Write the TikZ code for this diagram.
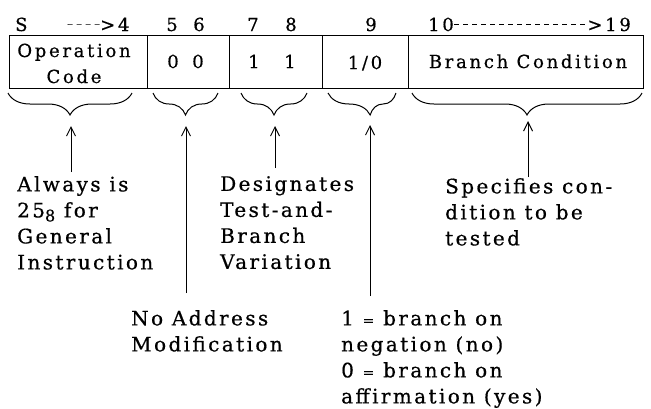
\documentclass[tikz,border=0pt]{standalone}
\usepackage{fontspec}
\setmainfont{DejaVu Serif}[LetterSpace=12, FakeBold=0.6]
\newfontfamily\boxfont{DejaVu Serif}[LetterSpace=15, FakeBold=0.6]
\usetikzlibrary{arrows.meta,decorations.pathreplacing}
\tikzset{
  hdr/.style={font=\boxfont\fontsize{18}{26}\selectfont, inner sep=0pt, anchor=base},
  cell/.style={font=\boxfont\fontsize{18}{26}\selectfont, inner sep=0pt, anchor=base, align=center},
  desc/.style={font=\fontsize{20}{26}\selectfont, inner sep=0pt, anchor=north west, align=left},
  brc/.style={decorate, decoration={brace, mirror, amplitude=22pt}, line width=1pt},
  arr/.style={-{Straight Barb[length=9pt,width=9pt]}, line width=1pt},
  frame/.style={line width=1pt},
  dsh/.style={dashed, line width=0.6pt, dash pattern=on 5pt off 4pt}
}
\begin{document}
\begin{tikzpicture}[x=1pt,y=-1pt]
\useasboundingbox (0,0) rectangle (651,408);
% header numbers
\node[hdr, anchor=base west] (hS) at (15,31) {S};
\node[hdr, anchor=base west] (h4) at (100,31) {>4};
\node[hdr] (h5) at (172,31) {5};
\node[hdr] (h6) at (199,31) {6};
\node[hdr] (h7) at (253,31) {7};
\node[hdr] (h8) at (291,31) {8};
\node[hdr] (h9) at (371,31) {9};
\node[hdr, anchor=base west] (h10) at (428,31) {10};
\node[hdr, anchor=base east] (h19) at (631,31) {>19};
\draw[dsh] ([xshift=40pt]hS.east) -- (h4.west);
\draw[dsh] (h10.east) -- (h19.west);
% word frame
\coordinate (fl) at (9,35);
\coordinate (fr) at (643,88);
\draw[frame] (fl) rectangle (fr);
\foreach \x/\n in {147/d1,229/d2,322/d3,408/d4}{
  \coordinate (\n t) at (\x,35);
  \coordinate (\n b) at (\x,88);
  \draw[frame] (\n t) -- (\n b);
}
% cell contents
\node[cell] (op) at (74,83) {Operation\\Code};
\node[cell] (z1) at (173,68) {0};
\node[cell] (z2) at (198,68) {0};
\node[cell] (o1) at (254,68) {1};
\node[cell] (o2) at (290,68) {1};
\node[cell] (oz) at (365,69) {1/0};
\node[cell] (bc) at (528,68) {Branch Condition};
% braces
\draw[brc] (8,93) -- (132,93);
\draw[brc] (153,93) -- (218,93);
\draw[brc] (241,93) -- (307,93);
\draw[brc, decoration={aspect=0.62}] (328,93) -- (396,93);
\draw[brc] (412,93) -- (642,93);
% arrow tips and tails
\coordinate (p1) at (71,126);  \coordinate (q1) at (71,172);
\coordinate (p2) at (186,126); \coordinate (q2) at (186,293);
\coordinate (p3) at (275,126); \coordinate (q3) at (275,168);
\coordinate (p4) at (370,125); \coordinate (q4) at (370,296);
\coordinate (p5) at (528,121); \coordinate (q5) at (528,177);
\foreach \i in {1,...,5}{ \draw[arr] (q\i) -- (p\i); }
% descriptions
\node[desc] (t1) at (17,176) {Always is\\25\raisebox{-4pt}{\fontsize{16}{16}\selectfont 8} for\\General\\Instruction};
\node[desc] (t3) at (220,176) {Designates\\Test-and-\\Branch\\Variation};
\node[desc] (t5) at (445,178) {Specifies con-\\dition to be\\tested};
\node[desc] (t2) at (131,310) {No Address\\Modification};
\node[desc] (t4) at (341,310) {1 {\fontsize{14}{14}\selectfont =} branch on\\negation (no)\\0 {\fontsize{14}{14}\selectfont =} branch on\\affirmation (yes)};
\end{tikzpicture}
\end{document}
